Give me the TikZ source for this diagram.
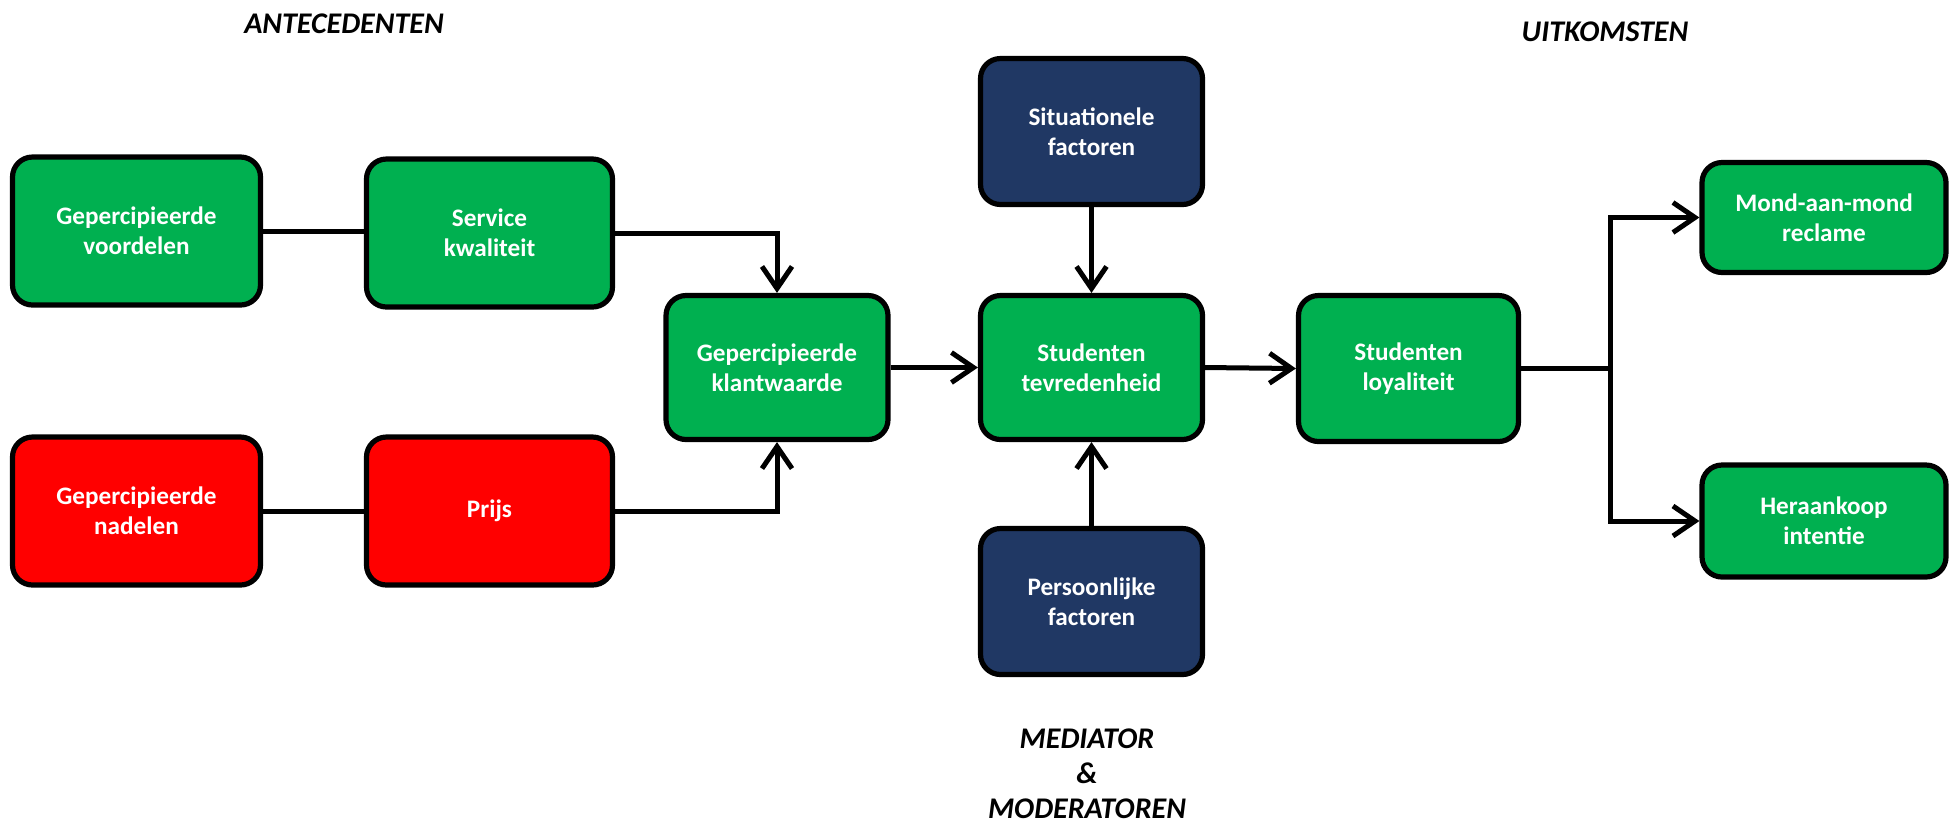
\documentclass[tikz,border=0pt]{standalone}
\usepackage{fontspec}
\setmainfont{Carlito}
\usetikzlibrary{arrows.meta}
\definecolor{boxgreen}{HTML}{00B050}
\definecolor{boxred}{HTML}{FF0000}
\definecolor{boxnavy}{HTML}{203864}
\begin{document}
\begin{tikzpicture}[x=0.5pt,y=-0.5pt,
  box/.style={draw=black, line width=2.6pt, rounded corners=10pt,
    minimum width=#1, minimum height=74pt, align=center,
    text=white, font=\fontsize{12.6}{15.2}\selectfont\bfseries, inner sep=2pt},
  box/.default=123pt,
  greenbox/.style={box=#1, fill=boxgreen},
  greenbox/.default=123pt,
  redbox/.style={box=124pt, fill=boxred},
  navybox/.style={box=111pt, fill=boxnavy},
  link/.style={line width=2.5pt},
  flow/.style={link, -{Straight Barb[length=11pt,width=15pt,line width=2.5pt]}},
  heading/.style={font=\fontsize{15}{17.6}\selectfont\bfseries\itshape, align=center, inner sep=1pt}]
\useasboundingbox (0,0) rectangle (1952,827);

% antecedents
\node[greenbox=124pt] (gv) at (136.5,231) {Gepercipieerde\\voordelen};
\node[greenbox=123pt] (sk) at (489.5,233) {Service\\kwaliteit};
\node[redbox] (gn) at (136.5,511) {Gepercipieerde\\nadelen};
\node[redbox, minimum width=123pt] (pr) at (489.5,511) {Prijs};
\node[greenbox=111pt, minimum height=72pt] (gk) at (777,367.5) {Gepercipieerde\\klantwaarde};

% mediator and moderators
\node[greenbox=111pt, minimum height=72pt] (st) at (1091.5,367.5) {Studenten\\tevredenheid};
\node[navybox, minimum height=73pt] (sf) at (1091.5,131.5) {Situationele\\factoren};
\node[navybox, minimum height=73pt] (pf) at (1091.5,601.5) {Persoonlijke\\factoren};

% outcomes
\node[greenbox=110pt, minimum height=73pt] (sl) at (1408.5,368.5) {Studenten\\loyaliteit};
\node[greenbox=122pt, minimum height=55pt] (mm) at (1824,217.5) {Mond-aan-mond\\reclame};
\node[greenbox=122pt, minimum height=56pt] (hi) at (1824,521) {Heraankoop\\intentie};

% headings
\node[heading] (hant) at (344,24) {ANTECEDENTEN};
\node[heading] (huit) at (1605,32) {UITKOMSTEN};
\node[heading] (hmed) at (1087,774) {MEDIATOR\\\&\\MODERATOREN};

% connectors
\draw[link] (gv.east) -- (gv.east -| sk.west);
\draw[link] (gn.east) -- (pr.west);
\draw[flow] (sk.east) -| (gk.north);
\draw[flow] (pr.east) -| (gk.south);
\draw[flow] (gk.east) -- (st.west);
\draw[flow] (sf.south) -- (st.north);
\draw[flow] (pf.north) -- (st.south);
\draw[flow] (st.east) -- (sl.west);
\coordinate (split) at (1610,368.5);
\draw[link] (sl.east) -- (split);
\draw[flow] (split) |- (mm.west);
\draw[flow] (split) |- (hi.west);
\end{tikzpicture}
\end{document}
